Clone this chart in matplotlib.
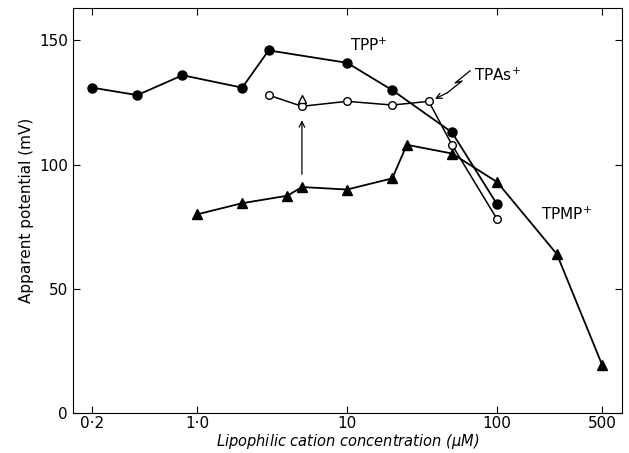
import numpy as np
import matplotlib
matplotlib.use("Agg")
import matplotlib.pyplot as plt

# TPP+ (filled circles)
tpp_conc = [0.2, 0.4, 0.8, 2.0, 3.0, 10, 20, 50, 100]
tpp_mv = [131, 128, 136, 131, 146, 141, 130, 113, 84]

# TPAs+ (open circles)
tpas_conc = [3.0, 5.0, 10, 20, 35, 50, 100]
tpas_mv = [128, 123.5, 125.5, 124, 125.5, 108, 78]

# TPMP+ (filled triangles)
tpmp_conc = [1.0, 2.0, 4.0, 5.0, 10, 20, 25, 50, 100, 250, 500]
tpmp_mv = [80, 84.5, 87.5, 91, 90, 94.5, 108, 104.5, 93, 64, 19.5]

# open triangle shown above the arrow
open_tri_conc = [5.0]
open_tri_mv = [126.5]

xticks = [0.2, 1.0, 10, 100, 500]
xtick_labels = ["0·2", "1·0", "10", "100", "500"]
yticks = [0, 50, 100, 150]


def main():
    fig = plt.figure(figsize=(6.29, 4.53), dpi=100)
    ax = fig.add_axes([0.116, 0.088, 0.873, 0.894])

    ax.plot(tpp_conc, tpp_mv, "k-", marker="o", ms=6.5, lw=1.3)
    ax.plot(tpas_conc, tpas_mv, "k-", marker="o", ms=5.5, mfc="white", lw=1.1)
    ax.plot(tpmp_conc, tpmp_mv, "k-", marker="^", ms=7, lw=1.3)
    ax.plot(open_tri_conc, open_tri_mv, "k", marker="^", ms=6, mfc="white", ls="none")

    # arrow from TPMP point up to the open symbols
    ax.annotate("", xy=(5.0, 119), xytext=(5.0, 95),
                arrowprops=dict(arrowstyle="->", color="k", lw=0.9))

    ax.text(14, 148, "TPP$^{+}$", fontsize=11, ha="center", va="center")
    ax.text(100, 136, "TPAs$^{+}$", fontsize=11, ha="center", va="center")
    # zigzag pointer to the TPAs+ curve
    ax.plot([66, 52.5, 58.5, 46.4], [137.8, 132.9, 133.7, 128.9], "k-", lw=0.9)
    ax.annotate("", xy=(38.5, 126.5), xytext=(46.4, 128.9),
                arrowprops=dict(arrowstyle="->", color="k", lw=0.9,
                                shrinkA=0, shrinkB=0))
    ax.text(290, 80, "TPMP$^{+}$", fontsize=11, ha="center", va="center")

    ax.set_xscale("log")
    ax.set_xlim(0.149, 680)
    ax.set_ylim(0, 163)
    ax.set_xticks(xticks)
    ax.set_xticklabels(xtick_labels)
    ax.minorticks_off()
    ax.set_yticks(yticks)
    ax.tick_params(direction="in", top=True, right=True, length=5, labelsize=11)
    ax.tick_params(axis="x", pad=2)

    ax.set_xlabel("Lipophilic cation concentration ($\\mu$M)", fontsize=10.5,
                  style="italic", labelpad=1)
    ax.set_ylabel("Apparent potential (mV)", fontsize=11)

    fig.savefig("out.png", dpi=100)


if __name__ == "__main__":
    main()
